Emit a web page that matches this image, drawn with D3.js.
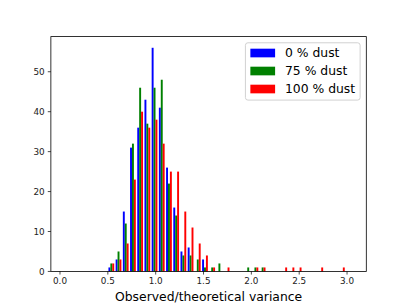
<!DOCTYPE html>
<html>
<head>
<meta charset="utf-8">
<script src="https://cdn.jsdelivr.net/npm/d3@7"></script>
<style>
  html, body { margin: 0; padding: 0; background: #fff; }
  svg { display: block; font-family: "DejaVu Sans", sans-serif; }
</style>
</head>
<body>
<svg id="chart" width="407" height="305"></svg>
<script>
// ---- data ----
const seriesNames = ["0 % dust", "75 % dust", "100 % dust"];
const seriesColors = ["#0000ff", "#008000", "#ff0000"];
const binStart = 0.047;
const binWidth = 0.0753;
const nBins = 40;
const counts0 = [0,0,0,0,0,0, 1,3,15,31,36,43,56,41,26,16,5,6,0,3, 0,0,0,0,0,0,0,0,0,0, 0,0,0,0,0,0,0,0,0,0];
const counts75 = [0,0,0,0,0,0, 2,5,12,32,46,37,46,48,22,14,4,4,3,1, 1,2,0,0,0,1,1,1,0,0, 0,0,0,0,0,0,0,0,0,0];
const counts100 = [0,0,0,0,0,0, 2,3,7,23,40,36,38,32,25,25,15,11,7,4, 1,0,1,0,0,0,1,1,0,0, 1,1,1,0,0,1,0,0,1,0];
const xTicks = [0.0, 0.5, 1.0, 1.5, 2.0, 2.5, 3.0];
const yTicks = [0, 10, 20, 30, 40, 50];
const xLabel = "Observed/theoretical variance";
const allCounts = [counts0, counts75, counts100];

(function () {
// ---- layout ----
const W = 407, H = 305;
const pL = 0.125 * W, pR = 0.9 * W, pT = (1 - 0.88) * H, pB = (1 - 0.11) * H;
const svg = d3.select("#chart");

const edges = d3.range(nBins + 1).map(i => binStart + i * binWidth);
const nx = allCounts.length;
const dr = 0.8;
const barW = dr * binWidth / nx;
const dataMin = edges[0] + 0.5 * binWidth - 0.5 * dr * binWidth;
const dataMax = edges[nBins] - 0.5 * binWidth + 0.5 * dr * binWidth;
const m = 0.05 * (dataMax - dataMin);
const x = d3.scaleLinear().domain([dataMin - m, dataMax + m]).range([pL, pR]);
const ymax = d3.max(allCounts, c => d3.max(c)) * 1.05;
const y = d3.scaleLinear().domain([0, ymax]).range([pB, pT]);

// bars
allCounts.forEach((cs, si) => {
  const boff = -0.5 * dr * binWidth * (1 - 1 / nx) + 0.5 * binWidth + si * barW;
  svg.append("g").selectAll("rect").data(cs.map((c, i) => ({c, i})).filter(d => d.c > 0))
    .enter().append("rect")
    .attr("x", d => x(edges[d.i] + boff - barW / 2))
    .attr("width", d => x(edges[d.i] + boff + barW / 2) - x(edges[d.i] + boff - barW / 2))
    .attr("y", d => y(d.c))
    .attr("height", d => y(0) - y(d.c))
    .attr("fill", seriesColors[si]);
});

// axes frame
svg.append("rect").attr("x", pL).attr("y", pT).attr("width", pR - pL).attr("height", pB - pT)
  .attr("fill", "none").attr("stroke", "#000").attr("stroke-width", 0.8);

const tickLen = 3.1, pad = 3.1, tickFs = 8.83;
const gx = svg.append("g");
xTicks.forEach(t => {
  gx.append("line").attr("x1", x(t)).attr("x2", x(t)).attr("y1", pB).attr("y2", pB + tickLen)
    .attr("stroke", "#000").attr("stroke-width", 0.7);
  gx.append("text").attr("x", x(t)).attr("y", pB + tickLen + pad + 6.6)
    .attr("text-anchor", "middle").attr("font-size", tickFs).attr("fill", "#222").text(t.toFixed(1));
});
const gy = svg.append("g");
yTicks.forEach(t => {
  gy.append("line").attr("x1", pL - tickLen).attr("x2", pL).attr("y1", y(t)).attr("y2", y(t))
    .attr("stroke", "#000").attr("stroke-width", 0.7);
  gy.append("text").attr("x", pL - tickLen - pad).attr("y", y(t) + 3.2)
    .attr("text-anchor", "end").attr("font-size", tickFs).attr("fill", "#222").text(t);
});

svg.append("text").attr("x", (pL + pR) / 2).attr("y", 300.5)
  .attr("text-anchor", "middle").attr("font-size", 12.37).attr("fill", "#000").text(xLabel);

// legend
const fs = 12.37;
const lgW = 114.7, lgRight = pR - 0.5 * fs, lgTop = pT + 0.5 * fs;
const lgLeft = lgRight - lgW;
const rowH = 18;
const lgH = 57.3;
const lg = svg.append("g");
lg.append("rect").attr("x", lgLeft).attr("y", lgTop).attr("width", lgW).attr("height", lgH)
  .attr("rx", 2.5).attr("ry", 2.5)
  .attr("fill", "#fff").attr("fill-opacity", 0.8).attr("stroke", "#cccccc").attr("stroke-width", 0.9);
seriesNames.forEach((name, i) => {
  const base = lgTop + 14.5 + i * rowH;
  lg.append("rect").attr("x", lgLeft + 0.4 * fs).attr("y", base - 8.6)
    .attr("width", 2.0 * fs).attr("height", 0.7 * fs).attr("fill", seriesColors[i]);
  lg.append("text").attr("x", lgLeft + 0.4 * fs + 2.0 * fs + 0.8 * fs).attr("y", base)
    .attr("font-size", fs).attr("fill", "#000").text(name);
});
})();
</script>
</body>
</html>
